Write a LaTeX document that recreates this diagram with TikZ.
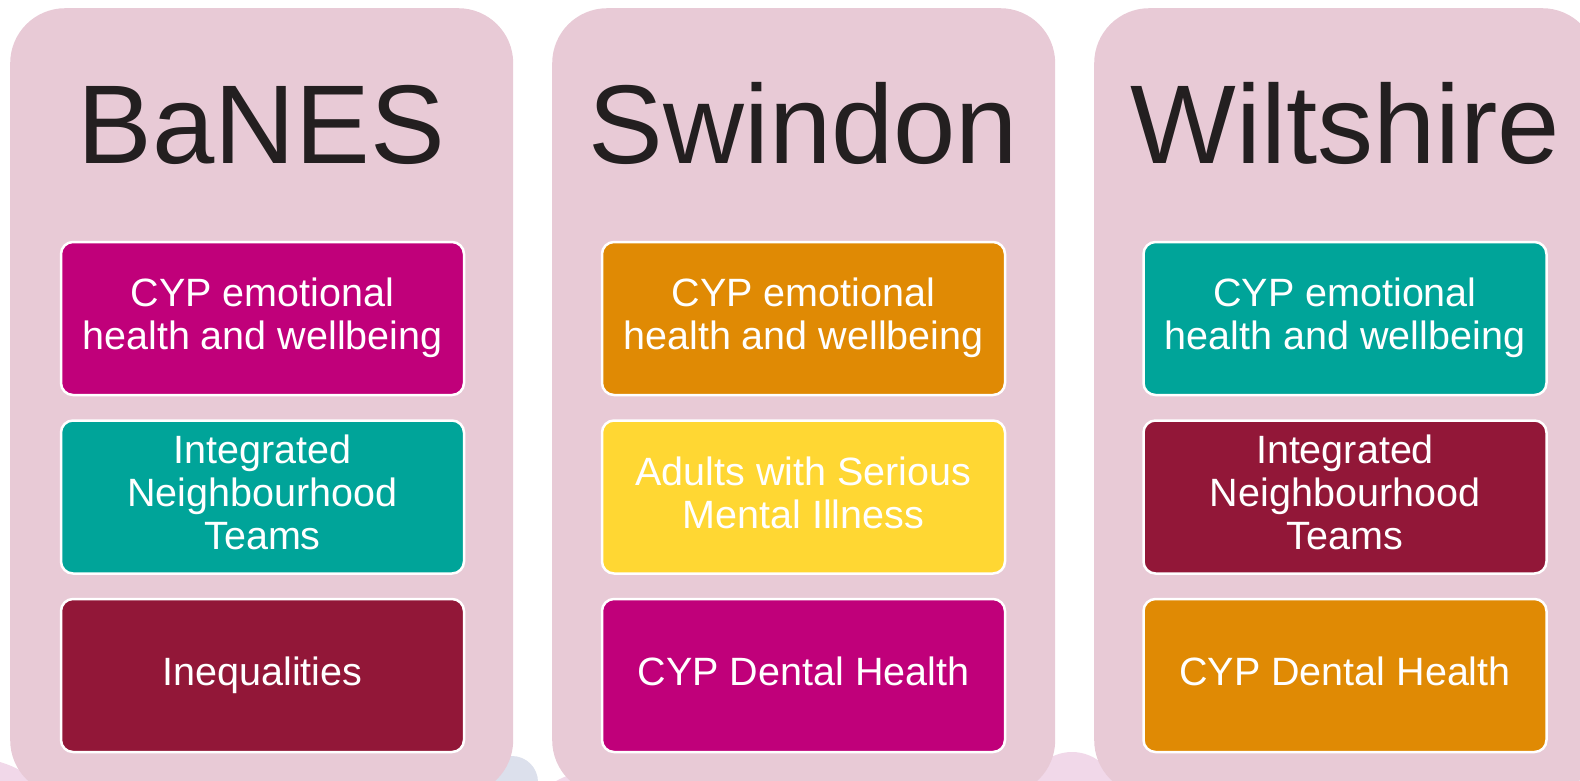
\documentclass[tikz,border=0pt]{standalone}
\usepackage{fontspec}
\setmainfont{Liberation Sans}
\usetikzlibrary{positioning}

\definecolor{panelpink}{HTML}{E8CAD6}
\definecolor{titleink}{HTML}{231F20}
\definecolor{cypmagenta}{HTML}{C0007A}
\definecolor{cypteal}{HTML}{00A499}
\definecolor{cypwine}{HTML}{921738}
\definecolor{cyporange}{HTML}{E08A04}
\definecolor{cypyellow}{HTML}{FFD733}
\definecolor{blobpink}{HTML}{F1D8E9}
\definecolor{blobblue}{HTML}{DCE0EC}

\begin{document}
\begin{tikzpicture}[
    x=1pt, y=-1pt,
    node distance=23pt,
    panel/.style={fill=panelpink, rounded corners=55pt, minimum width=503pt, minimum height=787pt, anchor=north west, inner sep=0pt},
    place/.style={font=\fontsize{112}{120}\selectfont, text=titleink, anchor=base, inner sep=0pt},
    topic/.style={draw=white, line width=2.5pt, rounded corners=12pt, minimum width=403pt, minimum height=153pt, align=center, text=white, font=\fontsize{39.5}{43}\selectfont, inner sep=0pt, text depth=9pt}
]
\useasboundingbox (0,0) rectangle (1580,780);
\clip (0,0) rectangle (1580,780);

% soft blobs peeking out under the panels
\fill[blobpink] (-28,858) circle[radius=100];
\fill[blobblue] (512,782) circle[radius=26];
\fill[blobpink] (590,840) circle[radius=68];
\fill[blobpink] (1072,797) circle[radius=45];

% the three areas
\node[panel] (pbanes) at (10,8) {};
\node[panel] (pswindon) at (552,8) {};
\node[panel] (pwilts) at (1094,8) {};

\node[place] (banes) at (261.5,163) {BaNES};
\node[place] (swindon) at (803.5,163) {Swindon};
\node[place] (wilts) at (1345.5,163) {Wiltshire};

% BaNES
\node[topic, fill=cypmagenta] (b1) at (262.5,318.5) {CYP emotional\\health and wellbeing};
\node[topic, fill=cypteal, below=of b1] (b2) {Integrated\\Neighbourhood\\Teams};
\node[topic, fill=cypwine, below=of b2] (b3) {Inequalities};

% Swindon
\node[topic, fill=cyporange] (s1) at (803.5,318.5) {CYP emotional\\health and wellbeing};
\node[topic, fill=cypyellow, below=of s1] (s2) {Adults with Serious\\Mental Illness};
\node[topic, fill=cypmagenta, below=of s2] (s3) {CYP Dental Health};

% Wiltshire
\node[topic, fill=cypteal] (w1) at (1345,318.5) {CYP emotional\\health and wellbeing};
\node[topic, fill=cypwine, below=of w1] (w2) {Integrated\\Neighbourhood\\Teams};
\node[topic, fill=cyporange, below=of w2] (w3) {CYP Dental Health};
\end{tikzpicture}
\end{document}
